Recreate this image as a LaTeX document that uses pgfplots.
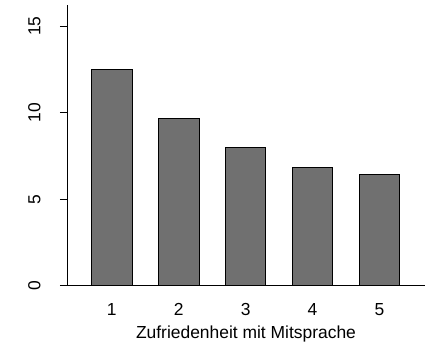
\documentclass[border=0pt]{standalone}
\usepackage{fontspec}
\setmainfont{Liberation Sans}
\usepackage{pgfplots}
\pgfplotsset{compat=1.18}
\definecolor{bargray}{RGB}{112,112,112}
\begin{document}
\begin{tikzpicture}
\path[use as bounding box] (-67bp,-61.3bp) rectangle (363bp,285.7bp);
\begin{axis}[
  at={(0,0)}, anchor=south west,
  scale only axis,
  width=358bp, height=280.7bp,
  xmin=0.33, xmax=5.682,
  ymin=0, ymax=16.23,
  axis x line*=bottom,
  axis y line*=left,
  axis line style={line width=0.8bp, black},
  xtick={1,2,3,4,5},
  ytick={0,5,10,15},
  x tick style={draw=none},
  y tick style={line width=0.8bp, black},
  major tick length=7bp,
  tick align=outside,
  /pgf/number format/assume math mode=true,
  tick label style={font=\fontsize{17.5}{20}\selectfont},
  xticklabel style={anchor=north, yshift=-7bp},
  yticklabel style={rotate=90, anchor=south, yshift=16bp},
  xlabel={Zufriedenheit mit Mitsprache},
  xlabel style={font=\fontsize{17.5}{20}\selectfont, at={(axis description cs:0.5,0)}, anchor=center, yshift=-48bp},
  ybar, bar width=40.4bp,
]
\addplot[fill=bargray, draw=black, line width=0.7bp] coordinates {
  (1,12.51) (2,9.69) (3,7.98) (4,6.86) (5,6.42)
};
\end{axis}
\end{tikzpicture}
\end{document}
